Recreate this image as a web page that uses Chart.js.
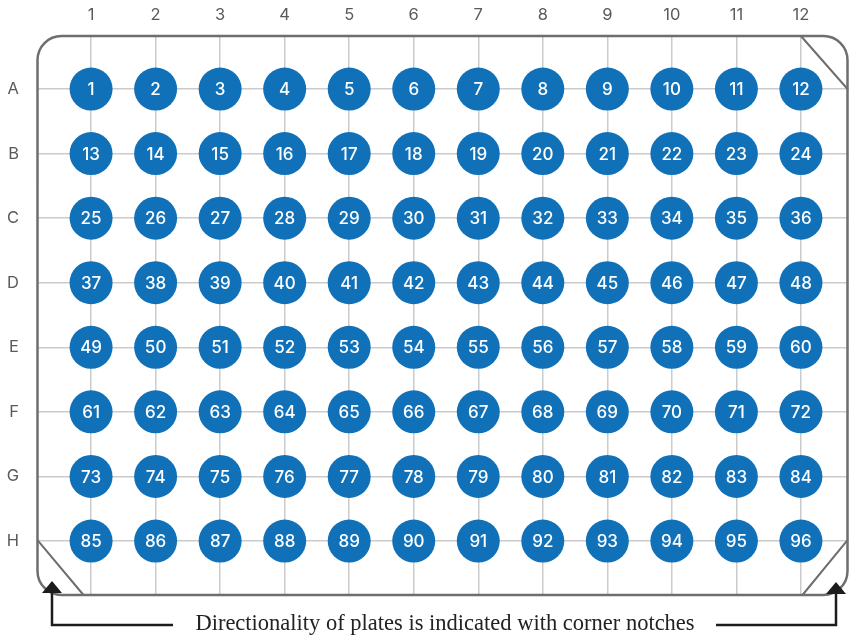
<!DOCTYPE html>
<html>
<head>
<meta charset="utf-8">
<script src="https://cdn.jsdelivr.net/npm/chart.js@4.4.1/dist/chart.umd.min.js"></script>
<style>
  html, body { margin: 0; padding: 0; background: #fff; }
  #wrap { width: 849px; height: 639px; }
</style>
</head>
<body>
<div id="wrap"><canvas id="plate" width="849" height="639"></canvas></div>
<script>
const columns = [1, 2, 3, 4, 5, 6, 7, 8, 9, 10, 11, 12];
const rowLabels = ["A", "B", "C", "D", "E", "F", "G", "H"];
const rowValues = [1, 2, 3, 4, 5, 6, 7, 8];
const caption = "Directionality of plates is indicated with corner notches";

// one point per well, numbered row by row
let wells = [];
let wellNumbers = [];
rowValues.forEach((r, ri) => {
  columns.forEach((c, ci) => {
    wells.push({ x: c, y: r });
    wellNumbers.push(String(ri * columns.length + ci + 1));
  });
});

const wellColor = "#1071b9";
const gridColor = "#cbcbcb";
const plateColor = "#6e6e6e";
const labelColor = "#5a5a5a";

const wellLabels = {
  id: "wellLabels",
  afterDatasetsDraw(chart) {
    const ctx = chart.ctx;
    const meta = chart.getDatasetMeta(0);
    ctx.save();
    ctx.fillStyle = "#ffffff";
    ctx.font = "500 17px Inter";
    ctx.textAlign = "center";
    ctx.textBaseline = "middle";
    meta.data.forEach((pt, i) => {
      ctx.fillText(wellNumbers[i], pt.x, pt.y + 1);
    });
    ctx.restore();
  },
};

const plateOutline = {
  id: "plateOutline",
  beforeDatasetsDraw(chart) {
    const ctx = chart.ctx;
    const area = chart.chartArea;
    const xs = chart.scales.x;
    const ys = chart.scales.y;
    const left = area.left + 0.5;
    const top = area.top;
    const right = area.right - 1.5;
    const bottom = area.bottom;
    const rad = 24;

    ctx.save();
    ctx.strokeStyle = plateColor;
    ctx.lineWidth = 2.5;
    ctx.beginPath();
    ctx.roundRect(left, top, right - left, bottom - top, rad);
    ctx.stroke();

    // corner notches
    ctx.lineWidth = 2;
    ctx.beginPath();
    ctx.moveTo(xs.getPixelForValue(12), top);
    ctx.lineTo(right, ys.getPixelForValue(1));
    ctx.moveTo(left, ys.getPixelForValue(8) - 1);
    ctx.lineTo(left + 46, bottom);
    ctx.moveTo(right - 45, bottom);
    ctx.lineTo(right, ys.getPixelForValue(8) - 1);
    ctx.stroke();
    ctx.restore();
  },
  afterDraw(chart) {
    const ctx = chart.ctx;
    const lineY = 625;
    ctx.save();
    ctx.strokeStyle = "#1c1c1c";
    ctx.fillStyle = "#1c1c1c";
    ctx.lineWidth = 2.5;

    // left arrow
    ctx.beginPath();
    ctx.moveTo(173, lineY);
    ctx.lineTo(52, lineY);
    ctx.lineTo(52, 590);
    ctx.stroke();
    ctx.beginPath();
    ctx.moveTo(52, 581);
    ctx.lineTo(62, 593);
    ctx.lineTo(42, 593);
    ctx.closePath();
    ctx.fill();

    // right arrow
    ctx.beginPath();
    ctx.moveTo(716, lineY);
    ctx.lineTo(836, lineY);
    ctx.lineTo(836, 590);
    ctx.stroke();
    ctx.beginPath();
    ctx.moveTo(836, 582);
    ctx.lineTo(846, 594);
    ctx.lineTo(826, 594);
    ctx.closePath();
    ctx.fill();

    ctx.fillStyle = "#222222";
    ctx.font = "22.5px 'Liberation Serif'";
    ctx.textAlign = "center";
    ctx.textBaseline = "middle";
    ctx.fillText(caption, 445, 624);
    ctx.restore();
  },
};

const chart = new Chart(document.getElementById("plate"), {
  type: "scatter",
  data: {
    datasets: [
      {
        data: wells,
        backgroundColor: wellColor,
        borderWidth: 0,
        pointRadius: 21.5,
        pointHoverRadius: 21.5,
        clip: false,
      },
    ],
  },
  options: {
    responsive: false,
    animation: false,
    events: [],
    layout: { autoPadding: false, padding: { top: 0, left: 0, right: 0, bottom: 44 } },
    plugins: {
      legend: { display: false },
      tooltip: { enabled: false },
    },
    scales: {
      x: {
        type: "linear",
        position: "top",
        min: 0.162,
        max: 12.745,
        afterBuildTicks: (s) => {
          s.ticks = columns.map((v) => ({ value: v }));
        },
        afterFit: (s) => {
          s.height = 36;
          s.paddingLeft = 0;
          s.paddingRight = 0;
        },
        ticks: {
          autoSkip: false,
          maxRotation: 0,
          padding: 11,
          color: labelColor,
          font: { family: "Inter", size: 16.5 },
        },
        grid: { color: gridColor, lineWidth: 1.5, drawTicks: false },
        border: { display: false },
      },
      y: {
        type: "linear",
        reverse: true,
        min: 0.179,
        max: 8.836,
        afterBuildTicks: (s) => {
          s.ticks = rowValues.map((v) => ({ value: v }));
        },
        afterFit: (s) => {
          s.width = 37;
          s.paddingTop = 0;
          s.paddingBottom = 0;
        },
        ticks: {
          autoSkip: false,
          padding: 18,
          color: labelColor,
          font: { family: "Inter", size: 16.5 },
          callback: (v) => rowLabels[v - 1],
        },
        grid: { color: gridColor, lineWidth: 1.5, drawTicks: false },
        border: { display: false },
      },
    },
  },
  plugins: [plateOutline, wellLabels],
});
</script>
</body>
</html>
